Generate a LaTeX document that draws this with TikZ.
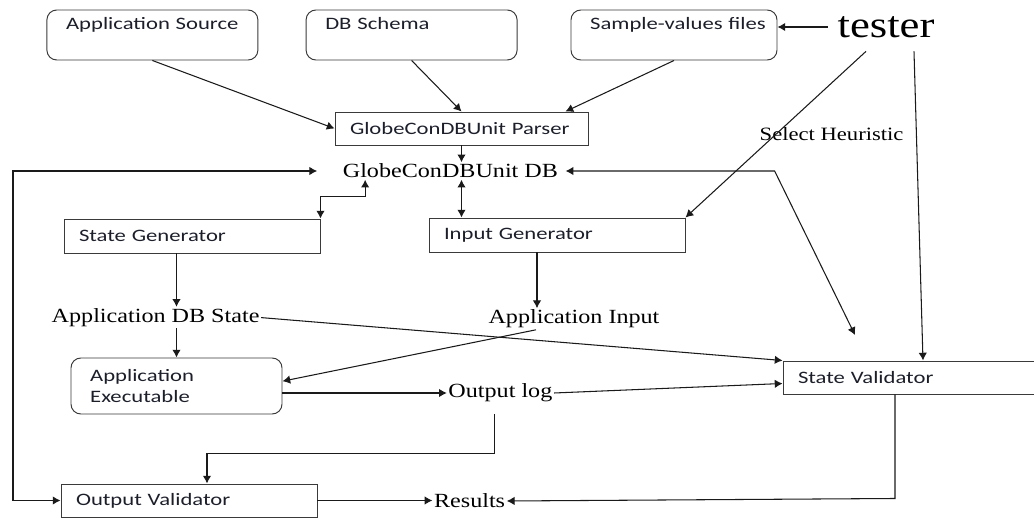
\documentclass[tikz,border=0pt]{standalone}
\usepackage{fontspec}
\setmainfont{Liberation Serif}[FakeStretch=1.2]
\newfontfamily\boxfont{Carlito}[FakeStretch=1.3]
\usepackage{xcolor}
\usepackage{tikz}
\usetikzlibrary{arrows.meta}
\definecolor{lnblack}{HTML}{1A1A1A}
\definecolor{bxgray}{HTML}{3A3A3A}
\definecolor{txdark}{HTML}{1C1F2A}

\begin{document}
\begin{tikzpicture}[
    x=1cm,y=1cm, >={Latex[length=5.5pt,width=6pt]},
    rbox/.style={rounded corners=7pt, draw=bxgray, line width=0.7pt, text=txdark, font=\boxfont\fontsize{12.4}{15}\selectfont, align=left, inner xsep=0.48cm},
    topbox/.style={rbox, inner ysep=0.2cm, text height=0.3cm, text depth=0.55cm},
    box/.style={draw=bxgray, line width=0.7pt, text=txdark, font=\boxfont\fontsize{12.4}{15}\selectfont, align=left, inner xsep=0.375cm, inner ysep=0pt, text width=5.65cm, minimum height=0.85cm},
    label/.style={font=\fontsize{14.3}{17}\selectfont, inner sep=1pt},
    link/.style={draw=lnblack, line width=0.75pt, ->}
  ]
    \useasboundingbox (0,0) rectangle (25.85,12.95);

    \node[topbox, text width=4.315cm] (appsrc) at (3.81,12.075) {Application Source};
    \node[topbox, text width=4.315cm] (schema) at (10.29,12.075) {DB Schema};
    \node[topbox, text width=4.19cm] (sample) at (16.85,12.075) {\mbox{Sample-values files}};
    \node[label, font=\fontsize{26.5}{30}\selectfont] (tester) at (22.15,12.275) {tester};

    \node[box, text width=5.575cm, minimum height=0.825cm] (parser) at (11.5375,9.7375) {GlobeConDBUnit Parser};
    \node[label] (db) at (11.26,8.675) {GlobeConDBUnit DB};
    \node[label, font=\fontsize{13.4}{16}\selectfont] (heur) at (20.79,9.6) {Select Heuristic};

    \node[box] (sgen) at (4.8,7.05) {State Generator};
    \node[box] (igen) at (13.925,7.075) {Input Generator};

    \node[label] (dbstate) at (3.89,5.01) {Application DB State};
    \node[label] (appin) at (14.35,4.975) {Application Input};

    \node[rbox, text width=4.315cm, minimum height=1.4cm] (appexe) at (4.4125,3.3) {Application\\Executable};
    \node[label] (outlog) at (12.51,3.125) {Output log};
    \node[box, minimum height=0.825cm] (sval) at (22.775,3.5125) {State Validator};

    \node[box, minimum height=0.825cm] (oval) at (4.725,0.4375) {Output Validator};
    \node[label] (results) at (11.74,0.425) {Results};

    \coordinate (edge) at (0.325,0);
    \coordinate (selend) at (21.375,4.575);

    % inputs to the parser
    \draw[link] (appsrc.south) -- (parser.west);
    \draw[link] (schema.south) -- (parser.north);
    \draw[link] (sample.south) -- ([xshift=-0.575cm]parser.north east);
    \draw[link] ([xshift=-0.2cm]tester.west) -- (tester.west -| sample.east);
    \draw[link] (parser.south) -- (parser.south |- db.north);

    % database links
    \draw[link,<->] (parser.south |- db.south) -- (parser.south |- igen.north);
    \draw[link,<->] (sgen.north east) -- ++(0,0.55) -| ([xshift=0.6cm]db.south west);
    \draw[link,<->,shorten <=0.6cm] (db.west) -- (db.west -| edge) -- (oval.west -| edge) -- (oval.west);
    \draw[link,<->,shorten <=0.15cm] (db.east) -- ++(5.375,0) -- (selend);

    % tester
    \draw[link] ([xshift=-0.5cm,yshift=-0.3cm]tester.south) -- (igen.north east);
    \draw[link] ([xshift=0.7cm,yshift=-0.3cm]tester.south) -- ([xshift=0.3cm]sval.north);

    % generators to execution
    \draw[link] (appexe.north |- sgen.south) -- (appexe.north |- dbstate.north);
    \draw[link] (dbstate.south -| appexe.north) -- (appexe.north);
    \path ([xshift=-0.5cm]igen.south) coordinate (igs);
    \draw[link] (igs) -- (igs |- appin.north);
    \draw[link] (dbstate.east) -- (sval.north west);
    \draw[link] ([xshift=-0.95cm]appin.south) -- ([yshift=0.12cm]appexe.east);
    \draw[link] (appexe.east |- outlog.west) -- (outlog.west);

    % validation
    \draw[link] (outlog.east) -- ([yshift=-0.15cm]sval.west);
    \draw[link] ([xshift=-0.15cm,yshift=-0.25cm]outlog.south) -- ++(0,-1.0) -| ([xshift=0.45cm]oval.north);
    \draw[link] (oval.east) -- (oval.east -| results.west);
    \draw[link] ([xshift=-0.4cm]sval.south) -- ++(0,-2.6) -- (results.east);
  \end{tikzpicture}
\end{document}
